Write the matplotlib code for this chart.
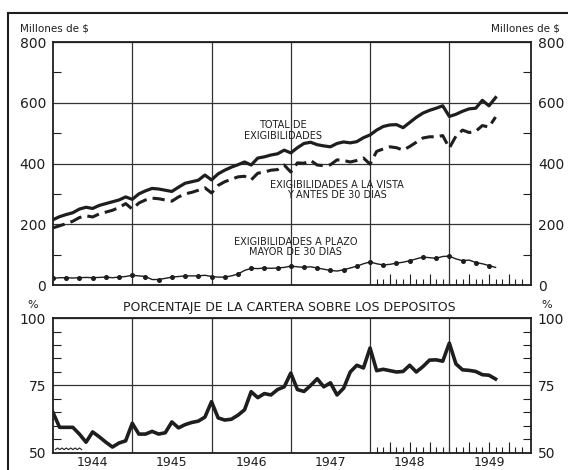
import numpy as np
import matplotlib
matplotlib.use('Agg')
from matplotlib import pyplot as plt
from matplotlib.lines import Line2D

# meses: dic 1943 .. jul 1949 (68 datos mensuales)
inicio = 1944
n_meses = 68

total = [215, 225, 232, 238, 250, 256, 252, 262, 268, 274, 280, 290,
         282, 300, 310, 318, 316, 312, 308, 322, 335, 340, 345, 362,
         346, 366, 378, 388, 396, 405, 395, 418, 422, 428, 432, 444,
         435, 452, 466, 470, 462, 458, 455, 466, 471, 468, 472, 485,
         494, 510, 522, 527, 528, 518, 535, 552, 566, 575, 582, 590,
         555, 562, 572, 580, 582, 608, 590, 617]

vista = [188, 195, 202, 210, 222, 228, 224, 234, 240, 246, 255, 268,
         250, 270, 280, 286, 284, 280, 276, 290, 300, 305, 312, 320,
         303, 328, 340, 348, 356, 358, 346, 368, 372, 378, 380, 395,
         372, 402, 401, 410, 395, 393, 396, 412, 410, 405, 410, 418,
         398, 440, 448, 455, 452, 444, 456, 470, 484, 488, 488, 492,
         451, 490, 510, 502, 506, 525, 520, 553]

plazo = [22, 24, 24, 23, 24, 25, 24, 25, 26, 24, 26, 28,
         32, 30, 28, 18, 18, 22, 26, 28, 30, 30, 30, 32,
         28, 26, 26, 30, 36, 48, 55, 54, 56, 55, 56, 58,
         62, 60, 58, 60, 56, 52, 48, 46, 50, 56, 62, 70,
         76, 70, 66, 68, 72, 75, 80, 86, 92, 90, 88, 94,
         95, 86, 80, 82, 74, 70, 64, 58]

porcentaje = [65, 59.5, 59.5, 59.5, 57, 54, 57.8, 56, 54, 52.2, 53.7, 54.5,
              61, 57, 57, 58, 57, 57.5, 61.5, 59.3, 60.5, 61.3, 61.8, 63.3,
              69, 63, 62.2, 62.5, 64, 66, 72.7, 70.5, 72, 71.5, 73.5, 74.5,
              79.6, 73.5, 72.8, 75, 77.5, 74.5, 76, 71.5, 74, 80, 82.5, 81.5,
              88.9, 80.5, 81, 80.5, 80, 80.2, 82.5, 80, 82, 84.4, 84.5, 84,
              90.7, 83, 80.8, 80.6, 80.2, 79, 78.8, 77.4]

anios = [1944, 1945, 1946, 1947, 1948, 1949]

fechas = inicio + np.arange(n_meses) / 12.0
negro = '#1e1e1e'

fig = plt.figure(figsize=(5.68, 4.70), dpi=100)
fig.patch.set_facecolor('white')
ax1 = fig.add_axes([0.0933, 0.3936, 0.8415, 0.517])
ax2 = fig.add_axes([0.0933, 0.0362, 0.8415, 0.2872])


def preparar_eje(ax):
    ax.set_xlim(1944, 1950.03)
    for a in anios[1:]:
        ax.axvline(a, color='#333333', lw=0.9, zorder=1)
    ax.set_xticks([a + 0.5 for a in anios])
    ax.set_xticklabels([str(a) for a in anios])
    ax.tick_params(axis='x', which='major', length=0, labelsize=9,
                   pad=2, colors=negro)
    meses = 1948 + np.arange(1, 24) / 12.0
    ax.set_xticks(meses, minor=True)
    ax.tick_params(axis='x', which='minor', direction='in', length=4,
                   width=0.8, color=negro)
    sec = ax.secondary_xaxis('bottom')
    sec.set_xticks([1948.25, 1948.5, 1948.75, 1949.25, 1949.5, 1949.75])
    sec.tick_params(direction='in', length=8, width=0.8, labelbottom=False,
                    color=negro)
    sec.spines['bottom'].set_visible(False)
    ax.tick_params(axis='y', which='major', length=0, left=True, right=True,
                   labelleft=True, labelright=True, labelsize=10, pad=5,
                   colors=negro)
    ax.tick_params(axis='y', which='minor', direction='in', length=6,
                   width=0.8, left=True, right=True, color=negro)
    ax.grid(True, axis='y', which='major', color='#333333', lw=0.9)
    ax.set_axisbelow(True)
    for s in ax.spines.values():
        s.set_linewidth(1.3)
        s.set_color(negro)


# panel superior
preparar_eje(ax1)
ax1.set_ylim(0, 800)
ax1.set_yticks([0, 200, 400, 600, 800])
ax1.set_yticks([100, 300, 500, 700], minor=True)
ax1.tick_params(axis='x', labelbottom=False)

ax1.plot(fechas, total, color=negro, lw=2.3, solid_joinstyle='round', zorder=3)
ax1.plot(fechas, vista, color=negro, lw=2.2, dashes=(4, 2), zorder=3)
ax1.plot(fechas, plazo, color=negro, lw=1.0, marker='o', markersize=2.6,
         markevery=2, zorder=3)

ax1.text(1946.90, 510, 'TOTAL DE\nEXIGIBILIDADES', ha='center', va='center',
         fontsize=7, linespacing=1.1, color=negro)
ax1.text(1947.58, 313, 'EXIGIBILIDADES A LA VISTA\nY ANTES DE 30 DIAS',
         ha='center', va='center', fontsize=7, linespacing=1.1, color=negro)
ax1.text(1947.06, 125, 'EXIGIBILIDADES A PLAZO\nMAYOR DE 30 DIAS',
         ha='center', va='center', fontsize=7, linespacing=1.1, color=negro)

# panel inferior
preparar_eje(ax2)
ax2.set_ylim(50, 100)
ax2.set_yticks([50, 75, 100])
ax2.set_yticks([55, 60, 65, 70, 80, 85, 90, 95], minor=True)
ax2.plot(fechas, porcentaje, color=negro, lw=2.6, solid_joinstyle='round',
         zorder=3)

# signo de corte del eje
zx = np.linspace(0.005, 0.06, 13)
zy = 0.025 + 0.012 * np.array([0, 1] * 6 + [0])
ax2.plot(zx, zy, color=negro, lw=0.8, transform=ax2.transAxes, clip_on=False)

# textos de la figura
fig.text(0.035, 0.940, 'Millones de $', ha='left', va='center', fontsize=7.5,
         color=negro)
fig.text(0.986, 0.940, 'Millones de $', ha='right', va='center', fontsize=7.5,
         color=negro)
fig.text(0.058, 0.352, '%', ha='center', va='center', fontsize=8, color=negro)
fig.text(0.962, 0.352, '%', ha='center', va='center', fontsize=8, color=negro)
fig.text(0.51, 0.345, 'PORCENTAJE DE LA CARTERA SOBRE LOS DEPOSITOS',
         ha='center', va='center', fontsize=9, color=negro)

# marco exterior
fx = 8 / 568
fy = 1 - 13 / 470
fig.add_artist(Line2D([fx, fx], [0, fy], color=negro, lw=1.5,
                      transform=fig.transFigure))
fig.add_artist(Line2D([fx, 1], [fy, fy], color=negro, lw=1.5,
                      transform=fig.transFigure))

fig.savefig('out.png', dpi=100)
